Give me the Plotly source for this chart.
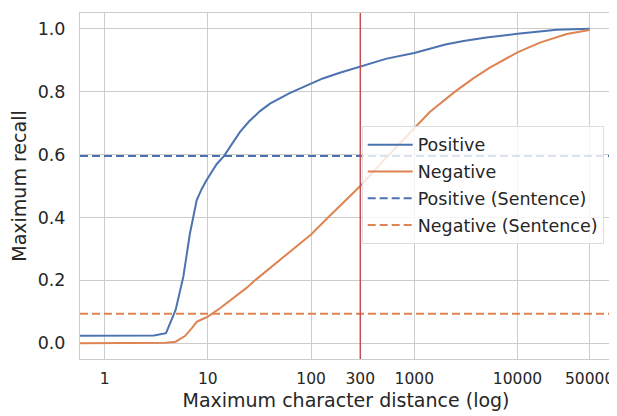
import plotly.graph_objects as go

# ---- data ----
pos_x = [0.5, 1, 2, 3, 3.93, 4.87, 5.78, 6.7, 7.8, 8.7, 9.7, 11, 12.2, 14.3, 17, 20.5, 25, 32, 40, 50,
         60, 72, 85, 100, 130, 190, 300, 540, 1000, 2000, 3000, 5000, 10000, 24000, 50000]
pos_y = [0.024, 0.024, 0.024, 0.025, 0.032, 0.106, 0.211, 0.349, 0.455, 0.49, 0.518, 0.548, 0.57, 0.595,
         0.633, 0.672, 0.705, 0.738, 0.762, 0.78, 0.793, 0.805, 0.815, 0.826, 0.842, 0.86, 0.88, 0.905,
         0.923, 0.95, 0.961, 0.972, 0.984, 0.997, 1.0]

neg_x = [0.5, 1, 2, 3, 3.93, 4.87, 6, 7, 7.8, 9, 10, 13.3, 17.8, 23.7, 28.6, 39.8, 56.2, 79.4, 100, 146,
         200, 300, 500, 1000, 1413, 2480, 3730, 5400, 10000, 16500, 30000, 50000]
neg_y = [0.0, 0.0, 0.0, 0.0, 0.002, 0.005, 0.023, 0.048, 0.068, 0.078, 0.085, 0.113, 0.144, 0.176, 0.2,
         0.238, 0.278, 0.318, 0.346, 0.4, 0.443, 0.5, 0.58, 0.685, 0.735, 0.8, 0.842, 0.876, 0.925,
         0.956, 0.983, 0.996]

pos_sentence = 0.595
neg_sentence = 0.094
cutoff = 300

x_tickvals = [1, 10, 100, 300, 1000, 10000, 50000]
x_ticktext = ["1", "10", "100", "300", "1000", "10000", "50000"]
y_tickvals = [0.0, 0.2, 0.4, 0.6, 0.8, 1.0]

BLUE = "#4c72b0"
ORANGE = "#dd8452"
RED = "#c44e52"
FONT = "DejaVu Sans"
TXT = "#262626"
DASH = "8px,4px"

fig = go.Figure()
fig.add_trace(go.Scatter(x=pos_x, y=pos_y, mode="lines", name="Positive", legendgroup="a",
                         line=dict(color=BLUE, width=2)))
fig.add_trace(go.Scatter(x=neg_x, y=neg_y, mode="lines", name="Negative", legendgroup="b",
                         line=dict(color=ORANGE, width=2)))
# legend entries for the sentence baselines
fig.add_trace(go.Scatter(x=[None], y=[None], mode="lines", name="Positive (Sentence)", legendgroup="c",
                         line=dict(color=BLUE, width=2, dash=DASH)))
fig.add_trace(go.Scatter(x=[None], y=[None], mode="lines", name="Negative (Sentence)", legendgroup="d",
                         line=dict(color=ORANGE, width=2, dash=DASH)))

fig.add_hline(y=pos_sentence, line=dict(color=BLUE, width=2, dash=DASH), layer="above")
fig.add_hline(y=neg_sentence, line=dict(color=ORANGE, width=2, dash=DASH), layer="above")
fig.add_vline(x=cutoff, line=dict(color=RED, width=1.5), layer="above")

fig.update_layout(
    width=609, height=408,
    margin=dict(l=72, r=5, t=5, b=57, pad=0),
    paper_bgcolor="white", plot_bgcolor="white",
    font=dict(family=FONT, size=17.5, color=TXT),
    showlegend=True,
    legend=dict(x=0.5295, y=0.674, xanchor="left", yanchor="top",
                bgcolor="rgba(255,255,255,0.8)", bordercolor="#dddddd", borderwidth=1,
                font=dict(family=FONT, size=17.5, color=TXT),
                traceorder="grouped", tracegroupgap=1, itemwidth=45),
)
fig.update_xaxes(
    type="log", range=[-0.239, 4.916], automargin=False,
    tickvals=x_tickvals, ticktext=x_ticktext, ticklabeloverflow="allow",
    showgrid=True, gridcolor="#cccccc", gridwidth=1,
    showline=True, linecolor="#cccccc", linewidth=1, mirror=True,
    ticks="", zeroline=False, ticklabelstandoff=5,
    tickfont=dict(size=15.5, color=TXT),
    title=dict(text="Maximum character distance (log)", font=dict(size=19, color=TXT), standoff=7),
)
fig.update_yaxes(
    range=[-0.05, 1.05], automargin=False,
    tickvals=y_tickvals, tickformat=".1f",
    showgrid=True, gridcolor="#cccccc", gridwidth=1,
    showline=True, linecolor="#cccccc", linewidth=1, mirror=True,
    ticks="", zeroline=False, ticklabelstandoff=10,
    tickfont=dict(size=17.5, color=TXT),
    title=dict(text="Maximum recall", font=dict(size=19, color=TXT), standoff=8),
)

fig.write_html("out.html")
